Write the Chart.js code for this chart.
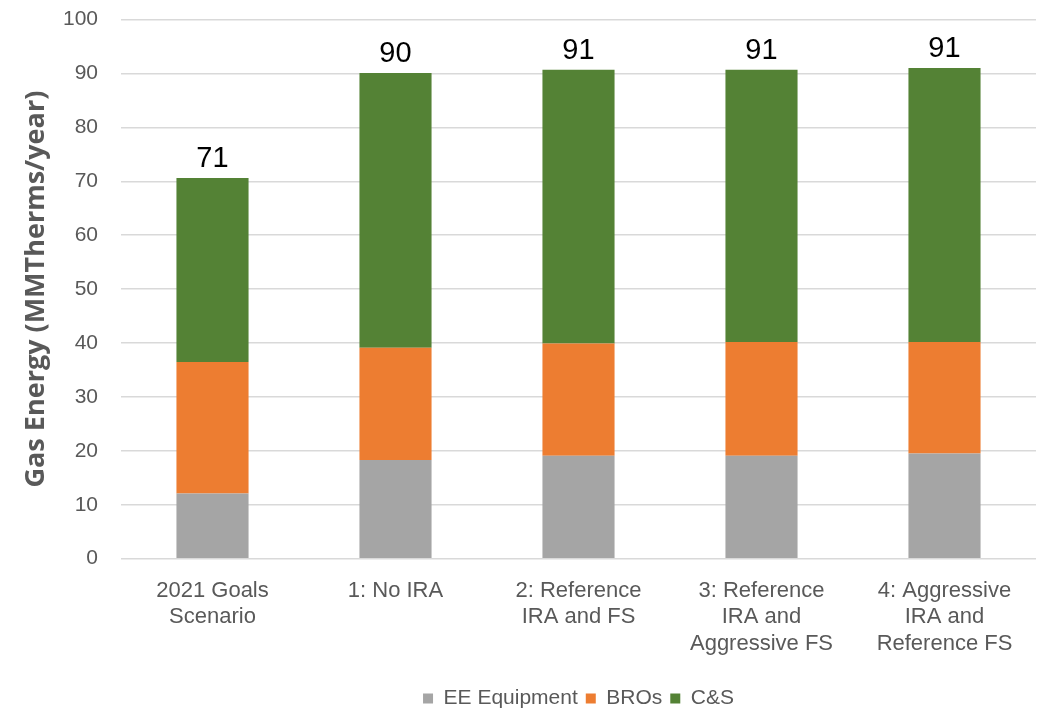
<!DOCTYPE html>
<html>
<head>
<meta charset="utf-8">
<script src="https://cdn.jsdelivr.net/npm/chart.js@4/dist/chart.umd.min.js"></script>
<style>
  html, body { margin: 0; padding: 0; background: #ffffff; }
  #wrap { width: 1048px; height: 712px; position: relative; }
</style>
</head>
<body>
<div id="wrap"><canvas id="chart" width="1048" height="712"></canvas></div>
<script>
// Scenario categories (multi-line tick labels)
const categories = [
  ['2021 Goals', 'Scenario'],
  ['1: No IRA'],
  ['2: Reference', 'IRA and FS'],
  ['3: Reference', 'IRA and', 'Aggressive FS'],
  ['4: Aggressive', 'IRA and', 'Reference FS']
];

// Gas savings by program component, MMTherms/year
const eeEquipment = [12.1, 18.3, 19.1, 19.1, 19.5];
const bros        = [24.4, 20.8, 20.8, 21.1, 20.7];
const codesStds   = [34.1, 51.0, 50.8, 50.5, 50.8];

const seriesNames = ['EE Equipment', 'BROs', 'C&S'];
const yTicks = { min: 0, max: 100, step: 10 };

const TEXT = '#595959';
const FONT = '"Liberation Sans", Arial, sans-serif';

// Stack totals printed above each column
const totalLabels = {
  id: 'totalLabels',
  afterDatasetsDraw(chart) {
    const ctx = chart.ctx;
    const lastMeta = chart.getDatasetMeta(chart.data.datasets.length - 1);
    ctx.save();
    ctx.fillStyle = '#000000';
    ctx.font = '29px ' + FONT;
    ctx.textAlign = 'center';
    ctx.textBaseline = 'alphabetic';
    categories.forEach((c, i) => {
      const total = chart.data.datasets.reduce((s, d) => s + d.data[i], 0);
      const bar = lastMeta.data[i];
      ctx.fillText(String(Math.round(total)), bar.x, bar.y - 11);
    });
    ctx.restore();
  }
};

new Chart(document.getElementById('chart'), {
  type: 'bar',
  data: {
    labels: categories,
    datasets: [
      { label: seriesNames[0], data: eeEquipment, backgroundColor: '#A5A5A5' },
      { label: seriesNames[1], data: bros,        backgroundColor: '#ED7D31' },
      { label: seriesNames[2], data: codesStds,   backgroundColor: '#548235' }
    ]
  },
  options: {
    responsive: false,
    animation: false,
    devicePixelRatio: 1,
    layout: { padding: { top: 19.5, right: 12, left: 0, bottom: -7 } },
    datasets: { bar: { categoryPercentage: 1.0, barPercentage: 0.394, borderWidth: 0 } },
    plugins: {
      legend: {
        position: 'bottom',
        fullSize: false,
        labels: {
          color: TEXT,
          font: { family: FONT, size: 21 },
          boxWidth: 10,
          boxHeight: 10,
          padding: 8
        }
      },
      tooltip: { enabled: false }
    },
    scales: {
      x: {
        stacked: true,
        grid: { display: false },
        border: { display: false },
        ticks: {
          color: TEXT,
          font: { family: FONT, size: 22, lineHeight: 1.2 },
          padding: 11,
          maxRotation: 0,
          autoSkip: false
        },
        afterFit(scale) { scale.height = 121.3; }
      },
      y: {
        stacked: true,
        min: yTicks.min,
        max: yTicks.max,
        grid: {
          color: '#D9D9D9',
          lineWidth: 1.5,
          drawTicks: true,
          tickLength: 20,
          tickColor: 'rgba(0,0,0,0)'
        },
        border: { display: false },
        ticks: {
          stepSize: yTicks.step,
          color: TEXT,
          font: { family: FONT, size: 21 },
          padding: 3
        },
        title: {
          display: true,
          text: 'Gas Energy (MMTherms/year)',
          color: TEXT,
          font: { family: '"Open Sans", sans-serif', size: 27, weight: 'bold' },
          padding: { top: 20, bottom: 0 }
        },
        afterFit(scale) { scale.width = 121; }
      }
    }
  },
  plugins: [totalLabels]
});
</script>
</body>
</html>
